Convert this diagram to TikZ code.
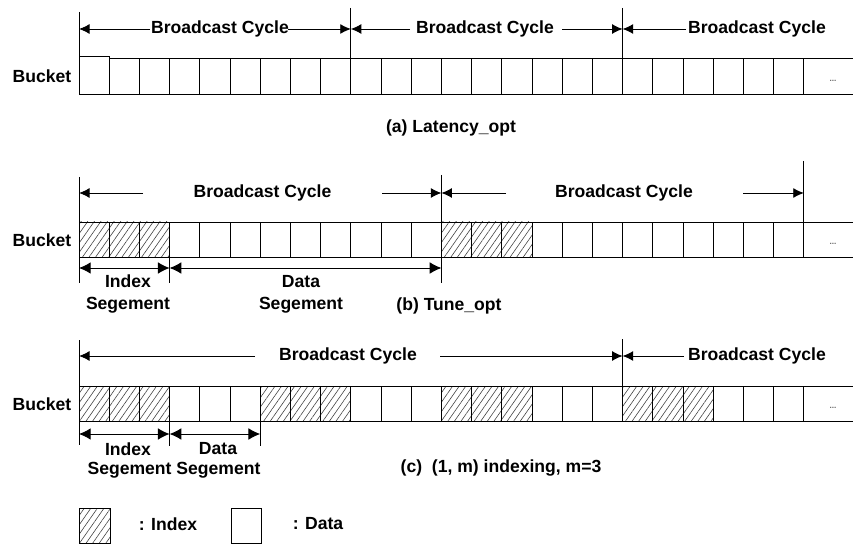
\documentclass[tikz,border=0pt]{standalone}
\usepackage{fontspec}
\setmainfont{Liberation Sans}
\usetikzlibrary{arrows.meta,patterns.meta}

\tikzset{
  lbl/.style={font=\fontsize{15}{18.7}\selectfont\bfseries, inner sep=0pt, align=center},
  cell/.style={draw, line width=0.8pt},
  idx/.style={cell, pattern={Lines[angle=55,distance=4.6pt,line width=0.5pt]}, pattern color=black!75},
  dots/.style={font=\fontsize{7}{8}\selectfont\bfseries, text=black!60, inner sep=0pt},
  tip/.style={-{Latex[length=9pt,width=8.5pt]}, line width=0.8pt},
  seg/.style={{Latex[length=10pt,width=10pt]}-{Latex[length=10pt,width=10pt]}, line width=0.8pt}
}

\begin{document}
\begin{tikzpicture}[x=0.03cm, y=-0.03cm]
\useasboundingbox (0,0) rectangle (853,544);

% (a) Latency_opt
\node[lbl] (bucket a) at (42,76) {Bucket};
\draw[cell] (79,56) rectangle (109.2,94);
\foreach \i in {1,...,23}
  \draw[cell] (79+30.2*\i,58) rectangle ++(30.2,36);
\draw[cell] (803.8,58) -- (853,58) (803.8,94) -- (853,94);
\node[dots] (dots a) at (833,81) {...};
% cycles
\draw[cell] (79,12) -- (79,94);
\draw[cell] (350.8,8) -- (350.8,58);
\draw[cell] (622.6,8) -- (622.6,58);
\coordinate (a0) at (79,29);
\coordinate (a1) at (350.8,29);
\coordinate (a2) at (622.6,29);
\node[lbl] (cyc a1) at (220,29) {Broadcast Cycle};
\node[lbl] (cyc a2) at (485,29) {Broadcast Cycle};
\node[lbl] (cyc a3) at (757,29) {Broadcast Cycle};
\coordinate (a1 l) at (150,29);
\coordinate (a1 r) at (288,29);
\coordinate (a2 l) at (410,29);
\coordinate (a2 r) at (562,29);
\coordinate (a3 l) at (686,29);
\draw[tip] (a1 l) -- (a0);
\draw[tip] (a1 r) -- (a1);
\draw[tip] (a2 l) -- (a1);
\draw[tip] (a2 r) -- (a2);
\draw[tip] (a3 l) -- (a2);
\node[lbl] (cap a) at (451,128) {(a) Latency\_opt};

% (b) Tune_opt
\node[lbl] (bucket b) at (42,240) {Bucket};
\foreach \i in {0,...,23}
  \draw[cell] (79+30.2*\i,222) rectangle ++(30.2,35);
\foreach \i in {0,1,2,12,13,14}
  \draw[idx] (79+30.2*\i,222) rectangle ++(30.2,35);
\draw[cell] (803.8,222) -- (853,222) (803.8,257) -- (853,257);
\node[dots] (dots b) at (833,244) {...};
% cycles
\draw[cell] (79,177) -- (79,283);
\draw[cell] (441.4,175) -- (441.4,283);
\draw[cell] (803.8,161) -- (803.8,222);
\draw[cell] (169.6,257) -- (169.6,283);
\coordinate (b0) at (79,193);
\coordinate (b1) at (441.4,193);
\coordinate (b2) at (803.8,193);
\node[lbl] (cyc b1) at (262.5,193) {Broadcast Cycle};
\node[lbl] (cyc b2) at (624,193) {Broadcast Cycle};
\coordinate (b1 l) at (143,193);
\coordinate (b1 r) at (382,193);
\coordinate (b2 l) at (506,193);
\coordinate (b2 r) at (743,193);
\draw[tip] (b1 l) -- (b0);
\draw[tip] (b1 r) -- (b1);
\draw[tip] (b2 l) -- (b1);
\draw[tip] (b2 r) -- (b2);
% segments
\coordinate (b0 s) at (79,268);
\coordinate (b3 s) at (169.6,268);
\coordinate (b1 s) at (441.4,268);
\draw[seg] (b0 s) -- (b3 s);
\draw[seg] (b3 s) -- (b1 s);
\node[lbl] (seg b1) at (128,294) {Index\\Segement};
\node[lbl] (seg b2) at (301,294) {Data\\Segement};
\node[lbl] (cap b) at (449,306) {(b) Tune\_opt};

% (c) (1, m) indexing
\node[lbl] (bucket c) at (42,404) {Bucket};
\foreach \i in {0,...,23}
  \draw[cell] (79+30.2*\i,386) rectangle ++(30.2,35);
\foreach \i in {0,1,2,6,7,8,12,13,14,18,19,20}
  \draw[idx] (79+30.2*\i,386) rectangle ++(30.2,35);
\draw[cell] (803.8,386) -- (853,386) (803.8,421) -- (853,421);
\node[dots] (dots c) at (833,408) {...};
% cycles
\draw[cell] (79,340) -- (79,445);
\draw[cell] (622.6,339) -- (622.6,386);
\draw[cell] (169.6,421) -- (169.6,446);
\draw[cell] (260.2,421) -- (260.2,446);
\coordinate (c0) at (79,356);
\coordinate (c1) at (622.6,356);
\node[lbl] (cyc c1) at (348,356) {Broadcast Cycle};
\node[lbl] (cyc c2) at (757,356) {Broadcast Cycle};
\coordinate (c1 l) at (255,356);
\coordinate (c1 r) at (440,356);
\coordinate (c2 l) at (684,356);
\draw[tip] (c1 l) -- (c0);
\draw[tip] (c1 r) -- (c1);
\draw[tip] (c2 l) -- (c1);
% segments
\coordinate (c0 s) at (79,434);
\coordinate (c3 s) at (169.6,434);
\coordinate (c4 s) at (260.2,434);
\draw[seg] (c0 s) -- (c3 s);
\draw[seg] (c3 s) -- (c4 s);
\node[lbl] (seg c1) at (128,449) {Index};
\node[lbl] (seg c2) at (218,449) {Data};
\node[lbl] (seg c3) at (174,470) {Segement Segement};
\node[lbl] (cap c) at (501,468) {(c)\ \ (1, m) indexing, m=3};

% key
\draw[idx] (79,508) rectangle (110,543);
\node[lbl] (key idx) at (168,524) {: Index};
\draw[cell] (231,508) rectangle (261,543);
\node[lbl] (key dat) at (318,524) {: Data};
\end{tikzpicture}
\end{document}
